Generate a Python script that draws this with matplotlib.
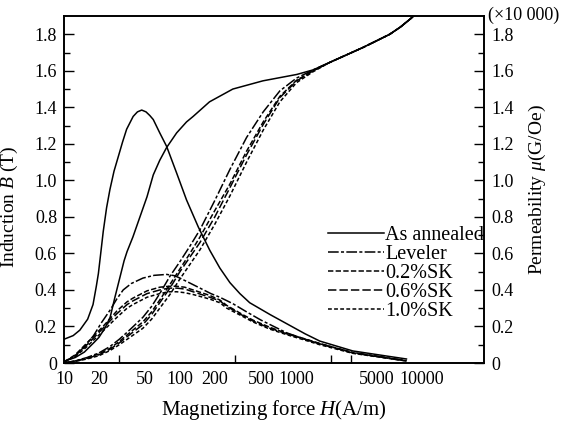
import matplotlib
matplotlib.use('Agg')
import matplotlib.pyplot as plt
from matplotlib.ticker import FixedLocator, NullFormatter
from matplotlib.transforms import ScaledTranslation

plt.rcParams['font.family'] = 'Liberation Serif'
plt.rcParams['mathtext.fontset'] = 'custom'
plt.rcParams['mathtext.rm'] = 'Liberation Serif'
plt.rcParams['mathtext.it'] = 'Liberation Serif:italic'

# Induction B (T)
annealed_B_H = [10, 12.5, 15, 18, 20, 22.5, 25, 27.5, 30.4, 33, 35, 39.3, 45.2, 52, 58.9, 67, 76.8,
                93.7, 114, 130, 180, 286, 520, 1020, 1410, 1963, 2800, 3805, 5000, 6460, 8000, 10200, 12500]
annealed_B = [0.01, 0.03, 0.06, 0.11, 0.14, 0.19, 0.25, 0.36, 0.47, 0.56, 0.61, 0.69, 0.80, 0.91, 1.03, 1.11, 1.18,
              1.26, 1.32, 1.35, 1.43, 1.50, 1.545, 1.58, 1.605, 1.646, 1.69, 1.728, 1.765, 1.80, 1.84, 1.895, 1.95]

treated_B_H = [10, 12.5, 15.8, 20, 24.9, 30, 36, 47.9, 57, 67, 82, 100, 122, 149, 200, 270, 376, 523, 728,
               1014, 1410, 1963, 2800, 3805, 5000, 6460, 8000, 10200, 12500]
leveler_B = [0.0, 0.012, 0.03, 0.055, 0.09, 0.13, 0.175, 0.25, 0.31, 0.38, 0.475, 0.555, 0.64, 0.73, 0.89, 1.06,
             1.235, 1.375, 1.49, 1.56, 1.605, 1.646, 1.69, 1.728, 1.765, 1.80, 1.84, 1.895, 1.95]
sk02_B = [0.0, 0.011, 0.027, 0.05, 0.08, 0.118, 0.16, 0.225, 0.28, 0.345, 0.43, 0.515, 0.60, 0.69, 0.835, 0.98,
          1.16, 1.32, 1.46, 1.548, 1.60, 1.646, 1.69, 1.728, 1.765, 1.80, 1.84, 1.895, 1.95]
sk06_B = [0.0, 0.01, 0.025, 0.045, 0.075, 0.11, 0.15, 0.21, 0.265, 0.33, 0.41, 0.50, 0.58, 0.66, 0.80, 0.96,
          1.14, 1.306, 1.453, 1.544, 1.60, 1.646, 1.69, 1.728, 1.765, 1.80, 1.84, 1.895, 1.95]
sk10_B = [0.0, 0.009, 0.022, 0.04, 0.068, 0.10, 0.135, 0.19, 0.24, 0.30, 0.375, 0.46, 0.54, 0.62, 0.76, 0.915,
          1.10, 1.275, 1.43, 1.535, 1.595, 1.646, 1.69, 1.728, 1.765, 1.80, 1.84, 1.895, 1.95]

# Permeabilite mu (x10 000 G/Oe)
annealed_mu_H = [10, 12, 13.7, 16, 17.8, 19, 19.8, 21, 21.8, 23.3, 24.9, 27, 29.4, 32, 34.7, 39.5, 43, 46.8,
                 51, 55, 58.9, 67, 76.8, 93.7, 114, 144, 181, 221, 270, 329, 400, 600, 835, 1200, 1610,
                 3100, 6080, 9000]
annealed_mu = [0.13, 0.15, 0.18, 0.24, 0.32, 0.42, 0.49, 0.63, 0.72, 0.85, 0.95, 1.05, 1.13, 1.21, 1.28, 1.35,
               1.375, 1.385, 1.375, 1.355, 1.333, 1.26, 1.186, 1.04, 0.893, 0.745, 0.617, 0.52, 0.44, 0.38,
               0.33, 0.265, 0.215, 0.16, 0.12, 0.066, 0.038, 0.022]

leveler_mu_H = [10, 12.5, 15, 18, 21, 25, 28.5, 32.4, 38, 48, 60, 77, 90, 100, 120, 149, 185, 221, 286, 376,
                500, 835, 1200, 1610, 3100, 6000, 9000]
leveler_mu = [0.005, 0.04, 0.09, 0.15, 0.22, 0.29, 0.35, 0.40, 0.435, 0.465, 0.48, 0.485, 0.478, 0.465, 0.44,
              0.41, 0.38, 0.36, 0.325, 0.28, 0.235, 0.165, 0.13, 0.105, 0.058, 0.03, 0.013]

sk_mu_H = [10, 12.5, 15.8, 21.7, 28.6, 35, 39.3, 52, 67, 80, 94, 110, 130, 181, 221, 254, 348, 426, 600, 835,
           1200, 1610, 3100, 6000, 9000]
sk02_mu = [0.005, 0.045, 0.11, 0.20, 0.285, 0.335, 0.355, 0.395, 0.415, 0.42, 0.42, 0.415, 0.40, 0.37, 0.345,
           0.315, 0.265, 0.235, 0.195, 0.162, 0.132, 0.107, 0.056, 0.029, 0.012]
sk06_mu = [0.005, 0.04, 0.10, 0.19, 0.27, 0.32, 0.34, 0.38, 0.40, 0.41, 0.41, 0.405, 0.39, 0.36, 0.34,
           0.31, 0.26, 0.23, 0.19, 0.16, 0.13, 0.105, 0.055, 0.028, 0.011]
sk10_mu = [0.005, 0.035, 0.09, 0.175, 0.25, 0.30, 0.32, 0.36, 0.38, 0.39, 0.39, 0.385, 0.375, 0.35, 0.33,
           0.30, 0.255, 0.225, 0.185, 0.155, 0.125, 0.10, 0.053, 0.027, 0.011]

series_names = ['As annealed', 'Leveler', '0.2%SK', '0.6%SK', '1.0%SK']

x_label_pos = [10, 20, 50, 100, 200, 500, 1000, 5000, 10000]
x_labels = ['10', '20', '50', '100', '200', '500', '1000', '5000', '10000']
x_tick_marks = [20, 30, 50, 100, 200, 300, 500, 2000, 3000]
y_ticks = [0, 0.2, 0.4, 0.6, 0.8, 1.0, 1.2, 1.4, 1.6, 1.8]
y_labels = ['0', '0.2', '0.4', '0.6', '0.8', '1.0', '1.2', '1.4', '1.6', '1.8']
y_minor = [0.1, 0.3, 0.5, 0.7, 0.9, 1.1, 1.3, 1.5, 1.7]

styles = ['-', (0, (7, 1.5, 2, 1.5)), (0, (3.5, 1.5)), (0, (5.5, 2)), (0, (2.5, 1.5))]

fig = plt.figure(figsize=(5.68, 4.25), dpi=100)
ax = fig.add_axes([64 / 568, 1 - 363 / 425, 420 / 568, 347 / 425])
ax2 = ax.twinx()

lw = 1.1
c = 'black'
# courbes B
ax.plot(annealed_B_H, annealed_B, color=c, lw=lw, ls=styles[0])
ax.plot(treated_B_H, leveler_B, color=c, lw=lw, ls=styles[1])
ax.plot(treated_B_H, sk02_B, color=c, lw=lw, ls=styles[2])
ax.plot(treated_B_H, sk06_B, color=c, lw=lw, ls=styles[3])
ax.plot(treated_B_H, sk10_B, color=c, lw=lw, ls=styles[4])

# courbes mu
h0, = ax2.plot(annealed_mu_H, annealed_mu, color=c, lw=lw, ls=styles[0])
h1, = ax2.plot(leveler_mu_H, leveler_mu, color=c, lw=lw, ls=styles[1])
h2, = ax2.plot(sk_mu_H, sk02_mu, color=c, lw=lw, ls=styles[2])
h3, = ax2.plot(sk_mu_H, sk06_mu, color=c, lw=lw, ls=styles[3])
h4, = ax2.plot(sk_mu_H, sk10_mu, color=c, lw=lw, ls=styles[4])

ax.set_xscale('log')
ax.set_xlim(10, 42000)
ax.set_ylim(0, 1.9)
ax2.set_ylim(0, 1.9)

ax.xaxis.set_major_locator(FixedLocator(x_label_pos))
ax.set_xticklabels(x_labels)
ax.xaxis.set_minor_locator(FixedLocator(x_tick_marks))
ax.xaxis.set_minor_formatter(NullFormatter())
ax.tick_params(axis='x', which='major', length=0, labelsize=13, pad=6)
ax.tick_params(axis='x', which='minor', direction='in', length=6, width=1)
# decaler le label 10000 comme sur l'original
lab = ax.get_xticklabels()[-1]
lab.set_transform(lab.get_transform() + ScaledTranslation(10 / 100, 0, fig.dpi_scale_trans))

for a in (ax, ax2):
    a.set_yticks(y_ticks)
    a.set_yticklabels(y_labels)
    a.yaxis.set_minor_locator(FixedLocator(y_minor))
    a.tick_params(axis='y', which='major', direction='in', length=7, width=1, labelsize=13, pad=5)
    a.tick_params(axis='y', which='minor', direction='in', length=4, width=1)
    for s in a.spines.values():
        s.set_linewidth(1.2)

ax.set_ylabel('Induction $B$ (T)', fontsize=14)
ax.yaxis.set_label_coords(-0.105, 0.45)
ax2.set_ylabel('Permeability $\\mu$(G/Oe)', fontsize=14, labelpad=10)
ax.set_xlabel('Magnetizing force $H$(A/m)', fontsize=15, labelpad=7)
fig.text(488 / 568, 1 - 15 / 425, '(×10 000)', fontsize=13, ha='left', va='center')

leg = ax2.legend([h0, h1, h2, h3, h4], series_names, loc='upper right',
                 bbox_to_anchor=(1.0, 0.395), frameon=False, fontsize=14.5,
                 handlelength=2.8, handletextpad=0.05, labelspacing=0.0,
                 borderaxespad=0, borderpad=0)

fig.savefig('out.png', dpi=100)
